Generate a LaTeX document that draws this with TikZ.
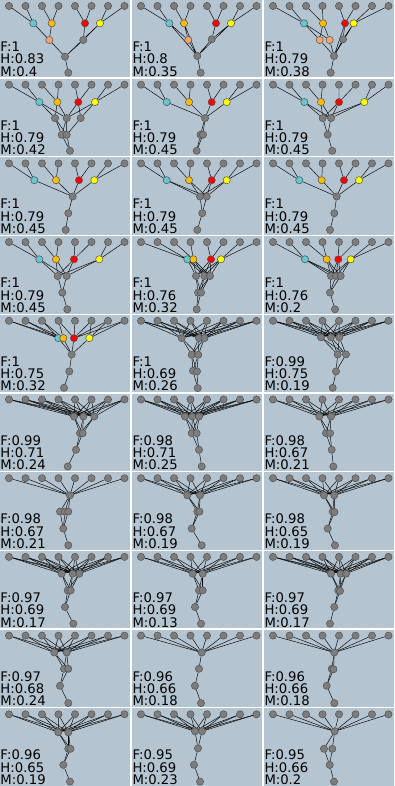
\documentclass[tikz,border=0pt]{standalone}
\usepackage{fontspec}
\newfontfamily\labfont{DejaVu Sans}
\pgfdeclarelayer{panel}
\pgfdeclarelayer{edges}
\pgfsetlayers{panel,edges,main}
\definecolor{panelbg}{RGB}{180,196,208}
\definecolor{ngray}{RGB}{125,125,125}
\definecolor{nline}{RGB}{80,80,80}
\definecolor{ncyan}{RGB}{100,200,212}
\definecolor{namber}{RGB}{255,188,0}
\definecolor{nred}{RGB}{250,0,0}
\definecolor{nyellow}{RGB}{255,255,0}
\definecolor{npeach}{RGB}{245,165,110}
\tikzset{
 gn/.style={circle,draw=nline,fill=ngray,line width=0.5pt,minimum size=7.2pt,inner sep=0pt},
 ed/.style={draw=black,line width=0.45pt},
 lab/.style={font=\labfont\fontsize{13.2}{13.2}\selectfont,inner sep=0pt,text depth=0pt,anchor=base west,text=black},
}
\newcommand\panelbase[3]{%
 \node[gn] (l1) at (9,6) {};
 \node[gn] (l2) at (25.5,6) {};
 \node[gn] (l3) at (42,6) {};
 \node[gn] (l4) at (58.5,6) {};
 \node[gn] (l5) at (75,6) {};
 \node[gn] (l6) at (91.5,6) {};
 \node[gn] (l7) at (108,6) {};
 \node[gn] (l8) at (124.5,6) {};
 \node[lab] (tf) at (0.3,51.6) {F:#1};
 \node[lab] (th) at (0.3,63.9) {H:#2};
 \node[lab] (tm) at (0.3,76.1) {M:#3};
 \begin{pgfonlayer}{panel}\fill[panelbg] (0,0) rectangle (130,77.4);\end{pgfonlayer}
}
\newcommand\colortwo[5]{%
 \node[gn,fill=ncyan] (X1) at (#1,#5) {};
 \node[gn,fill=namber] (X2) at (#2,#5) {};
 \node[gn,fill=nred] (X3) at (#3,#5) {};
 \node[gn,fill=nyellow] (X4) at (#4,#5) {};
 \gdef\nX{4}%
 \begin{pgfonlayer}{edges}
 \draw[ed] (l1)--(X1) (l2)--(X1) (l3)--(X2) (l4)--(X2) (l5)--(X3) (l6)--(X3) (l7)--(X4) (l8)--(X4);
 \end{pgfonlayer}}
\newcommand\graytwo[1]{%
 \foreach \x/\y [count=\i] in {#1} {\node[gn] (X\i) at (\x,\y) {}; \xdef\nX{\i}}
 \begin{pgfonlayer}{edges}
 \foreach \i in {1,...,\nX} {\foreach \j in {1,...,8} {\draw[ed] (l\j)--(X\i);}}
 \end{pgfonlayer}}
\newcommand\lowtree[3]{%
 \foreach \x/\y [count=\i] in {#1} {\node[gn] (P\i) at (\x,\y) {}; \xdef\nP{\i}}
 \foreach \x/\y [count=\i] in {#2} {\node[gn] (U\i) at (\x,\y) {}; \xdef\nU{\i}}
 \node[gn] (R) at (#3) {};
 \begin{pgfonlayer}{edges}
 \foreach \j in {1,...,\nX} {\foreach \i in {1,...,\nP} {\draw[ed] (X\j)--(P\i);}}
 \foreach \j in {1,...,\nP} {\foreach \i in {1,...,\nU} {\draw[ed] (P\j)--(U\i);}}
 \foreach \i in {1,...,\nU} {\draw[ed] (U\i)--(R);}
 \end{pgfonlayer}}
\begin{document}
\begin{tikzpicture}[x=1pt,y=-1pt]
\useasboundingbox (0,0) rectangle (395,786);
% row 0
\begin{scope}[shift={(0,0)}]
\panelbase{1}{0.83}{0.4}
\colortwo{33.3}{51.7}{85}{100}{23.3}
\node[gn,fill=npeach] (E) at (49.3,40) {};
\node[gn] (G) at (83.3,40) {};
\node[gn] (H) at (65,56.7) {};
\node[gn] (R) at (68.3,72.7) {};
\begin{pgfonlayer}{edges}
\draw[ed] (X1)--(E) (X2)--(E) (X3)--(G) (X4)--(G) (E)--(H) (G)--(H) (H)--(R) (X1)--(H) (X4)--(H);
\end{pgfonlayer}
\end{scope}
\begin{scope}[shift={(132,0)}]
\panelbase{1}{0.8}{0.35}
\colortwo{37.3}{52}{84}{99}{23.3}
\node[gn,fill=npeach] (E) at (56.3,40) {};
\node[gn] (G) at (79.7,39.3) {};
\node[gn] (H) at (65.3,56) {};
\node[gn] (R) at (68.7,72.7) {};
\begin{pgfonlayer}{edges}
\draw[ed] (X1)--(E) (X2)--(E) (X3)--(G) (X4)--(G) (E)--(H) (G)--(H) (H)--(R) (X1)--(H) (X4)--(H) (X2)--(H);
\end{pgfonlayer}
\end{scope}
\begin{scope}[shift={(264,0)}]
\panelbase{1}{0.79}{0.38}
\colortwo{40}{59}{81}{89.7}{23.3}
\node[gn,fill=npeach] (E1) at (55.7,40) {};
\node[gn,fill=npeach] (E2) at (65.7,40) {};
\node[gn] (G) at (79,39.3) {};
\node[gn] (H) at (70,56) {};
\node[gn] (R) at (66.7,72.7) {};
\begin{pgfonlayer}{edges}
\draw[ed] (X1)--(E1) (X1)--(E2) (X2)--(E1) (X2)--(E2) (X3)--(G) (X4)--(G) (X4)--(H) (X3)--(H) (E1)--(H) (E2)--(H) (G)--(H) (H)--(R);
\end{pgfonlayer}
\end{scope}
% row 1
\begin{scope}[shift={(0,78.7)}]
\panelbase{1}{0.79}{0.42}
\colortwo{39.3}{57.3}{78.3}{95}{23.4}
\node[gn] (P) at (55,39.4) {};
\node[gn] (Q) at (66.7,39.4) {};
\node[gn] (S) at (80.7,39.4) {};
\node[gn] (U1) at (61.7,56.1) {};
\node[gn] (U2) at (66.7,56.1) {};
\node[gn] (R) at (70,72.1) {};
\begin{pgfonlayer}{edges}
\draw[ed] (X1)--(P) (X1)--(Q) (X2)--(P) (X2)--(Q) (X3)--(S) (X4)--(S) (X4)--(Q) (X3)--(Q) (P)--(U1) (Q)--(U1) (Q)--(U2) (S)--(U2) (P)--(U2) (U1)--(R) (U2)--(R);
\end{pgfonlayer}
\end{scope}
\begin{scope}[shift={(132,78.7)}]
\panelbase{1}{0.79}{0.45}
\colortwo{34.7}{57}{79.7}{94.7}{23.4}
\lowtree{73/39.4}{68.5/56.1,71/56}{64.7,72.1}
\end{scope}
\begin{scope}[shift={(264,78.7)}]
\panelbase{1}{0.79}{0.45}
\colortwo{40.3}{57}{75}{100.3}{23.4}
\lowtree{58.7/39.4,67/39.4}{63.7/56}{68.3,72.1}
\end{scope}
% row 2
\begin{scope}[shift={(0,157.4)}]
\panelbase{1}{0.79}{0.45}
\colortwo{34.3}{56}{79}{94.3}{22.8}
\lowtree{72.7/39.1}{68.3/55.8}{65.7,72.5}
\end{scope}
\begin{scope}[shift={(132,157.4)}]
\panelbase{1}{0.79}{0.45}
\colortwo{34.7}{57}{79.7}{94.7}{22.8}
\lowtree{68/39.1,74.7/39.1}{70.3/55.8}{65.3,72.5}
\end{scope}
\begin{scope}[shift={(264,157.4)}]
\panelbase{1}{0.79}{0.45}
\colortwo{35.3}{57.7}{80}{95}{22.8}
\lowtree{72.7/39.1}{70.3/55.8}{66,72.5}
\end{scope}
% row 3
\begin{scope}[shift={(0,236.1)}]
\panelbase{1}{0.79}{0.45}
\colortwo{39.3}{56}{74}{99.3}{23.2}
\lowtree{57.7/39.9,66.7/39.9}{62.3/56.5}{67.3,73.2}
\end{scope}
\begin{scope}[shift={(132,236.1)}]
\panelbase{1}{0.76}{0.32}
\colortwo{55.3}{61.3}{79}{89}{23.2}
\lowtree{64/39.9,72.3/39.9,78/39.9}{66/56.5,69/56.5}{64.7,73.2}
\end{scope}
\begin{scope}[shift={(264,236.1)}]
\panelbase{1}{0.76}{0.2}
\colortwo{41}{62.7}{74.3}{86.7}{23.2}
\lowtree{67/39.9,72/39.9,76.7/39.9}{66/56.5}{71,73.2}
\end{scope}
% row 4
\begin{scope}[shift={(0,314.8)}]
\panelbase{1}{0.75}{0.32}
\colortwo{58.3}{63.3}{74}{89.3}{23.3}
\begin{pgfonlayer}{edges}
\draw[ed] (l1)--(X2) (l2)--(X2) (l3)--(X1) (l4)--(X3) (l6)--(X4) (l7)--(X3) (l8)--(X3);
\end{pgfonlayer}
\lowtree{71.7/39.6}{69.3/56.6}{64,73}
\end{scope}
\begin{scope}[shift={(132,314.8)}]
\panelbase{1}{0.69}{0.26}
\graytwo{49.7/23.3,67/23.3,72.5/23.3}
\lowtree{59.7/40,66.3/40}{61/56,65/56.6}{65.7,73.3}
\end{scope}
\begin{scope}[shift={(264,314.8)}]
\panelbase{0.99}{0.75}{0.19}
\graytwo{57/22.5,67/22.5,75.3/22.5}
\lowtree{73.7/39.6,82/39.6}{72/56.6}{68.7,73}
\end{scope}
% row 5
\begin{scope}[shift={(0,393.5)}]
\panelbase{0.99}{0.71}{0.24}
\graytwo{74/23,83.3/23,94.3/23}
\lowtree{80/39.7,82.7/39.7}{76/56.3}{67.7,73}
\end{scope}
\begin{scope}[shift={(132,393.5)}]
\panelbase{0.98}{0.71}{0.25}
\graytwo{53/23,60.3/23,67/23}
\lowtree{59.7/39.7,64.7/39.7}{67/56.3}{69.7,73}
\end{scope}
\begin{scope}[shift={(264,393.5)}]
\panelbase{0.98}{0.67}{0.21}
\graytwo{55.3/23,67/23}
\lowtree{62/39.7,66/39.7}{67.7/56.3}{69.3,73}
\end{scope}
% row 6
\begin{scope}[shift={(0,472.2)}]
\panelbase{0.98}{0.67}{0.21}
\graytwo{70/23.1}
\lowtree{60/39.4,65/39.4,68.3/39.4}{63.3/56.4}{68.3,73.1}
\end{scope}
\begin{scope}[shift={(132,472.2)}]
\panelbase{0.98}{0.67}{0.19}
\graytwo{55.3/23.1,68/23.1}
\lowtree{65.3/39.4,67.5/39.4}{59.7/56.4}{69.7,73.1}
\end{scope}
\begin{scope}[shift={(264,472.2)}]
\panelbase{0.98}{0.65}{0.19}
\graytwo{60/23.1,70.3/23.1}
\lowtree{68.7/39.4,70.5/39.9}{63.7/56.4}{71,73.1}
\end{scope}
% row 7
\begin{scope}[shift={(0,550.9)}]
\panelbase{0.97}{0.69}{0.17}
\graytwo{61.7/22.8,72.7/22.8,79.3/22.8}
\lowtree{67.7/39.5,70.7/39.5}{65/56.1}{73.3,72.8}
\end{scope}
\begin{scope}[shift={(132,550.9)}]
\panelbase{0.97}{0.69}{0.13}
\graytwo{60.7/22.8,70.7/22.8}
\lowtree{67/39.5,70.7/39.5}{63/56.1}{69,72.8}
\end{scope}
\begin{scope}[shift={(264,550.9)}]
\panelbase{0.97}{0.69}{0.17}
\graytwo{67/22.8,76.7/22.8,82/22.8}
\lowtree{74.3/39.5,76/40}{70.3/56.1}{66,72.8}
\end{scope}
% row 8
\begin{scope}[shift={(0,629.6)}]
\panelbase{0.97}{0.68}{0.24}
\graytwo{54.3/22.9,66.7/22.9}
\lowtree{64/39.2,68.3/39.2}{60/56.2}{68.3,73.5}
\end{scope}
\begin{scope}[shift={(132,629.6)}]
\panelbase{0.96}{0.66}{0.18}
\graytwo{69.7/22.9}
\lowtree{67/39.2}{63/56.2}{69,73.5}
\end{scope}
\begin{scope}[shift={(264,629.6)}]
\panelbase{0.96}{0.66}{0.18}
\graytwo{70.3/22.9}
\lowtree{67.7/39.2,69.5/39.7}{62.7/56.2}{70.3,73.5}
\end{scope}
% row 9
\begin{scope}[shift={(0,708.3)}]
\panelbase{0.96}{0.65}{0.19}
\graytwo{58.3/24,68.3/24}
\lowtree{68.3/40.5,70.5/40.5}{63.3/56.6}{70,73.3}
\end{scope}
\begin{scope}[shift={(132,708.3)}]
\panelbase{0.95}{0.69}{0.23}
\graytwo{63/23,70/23}
\lowtree{66/40}{62/56.5}{68,73.3}
\end{scope}
\begin{scope}[shift={(264,708.3)}]
\panelbase{0.95}{0.66}{0.2}
\graytwo{70.7/23}
\lowtree{60/40.5,68.3/40.5}{65.7/56.6}{70,73.3}
\end{scope}
\end{tikzpicture}
\end{document}
